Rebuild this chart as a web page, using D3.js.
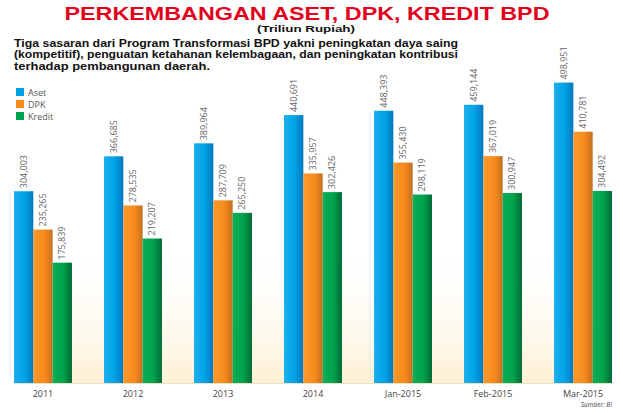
<!DOCTYPE html>
<html>
<head>
<meta charset="utf-8">
<script src="https://cdn.jsdelivr.net/npm/d3@7"></script>
<style>
  body { margin: 0; background: #fff; }
  svg { display: block; }
</style>
</head>
<body>
<div id="chart"></div>
<script>
// data (Triliun Rupiah)
const categories = ["2011", "2012", "2013", "2014", "Jan-2015", "Feb-2015", "Mar-2015"];
const seriesNames = ["Aset", "DPK", "Kredit"];
const aset   = [304003, 366685, 389964, 440691, 448393, 459144, 498951];
const dpk    = [235265, 278535, 287709, 335957, 355430, 367019, 410781];
const kredit = [175839, 219207, 265250, 302426, 298119, 300947, 304492];
const descLines = [
    "Tiga sasaran dari Program Transformasi BPD yakni peningkatan daya saing",
    "(kompetitif), penguatan ketahanan kelembagaan, dan peningkatan kontribusi",
    "terhadap pembangunan daerah."
];
const descWidths = [444, 444, 196];

const data = categories.map((c, i) => ({
    cat: c,
    values: [
        { key: "Aset", v: aset[i] },
        { key: "DPK", v: dpk[i] },
        { key: "Kredit", v: kredit[i] }
    ]
}));

const W = 620, H = 413;
const baseY = 383;

const svg = d3.select("#chart").append("svg")
    .attr("width", W)
    .attr("height", H);

const defs = svg.append("defs");

// gradients for bars (lighter left, darker right edge)
const grads = {
    Aset:   [["0%", "#1cb0ee"], ["55%", "#00a2e6"], ["100%", "#0577bd"]],
    DPK:    [["0%", "#fa9a2a"], ["60%", "#f6891c"], ["100%", "#c46f22"]],
    Kredit: [["0%", "#06ad57"], ["55%", "#00a24e"], ["100%", "#006a35"]]
};
Object.keys(grads).forEach(k => {
    const g = defs.append("linearGradient")
        .attr("id", "g-" + k)
        .attr("x1", "0%").attr("x2", "100%").attr("y1", "0%").attr("y2", "0%");
    grads[k].forEach(s => g.append("stop").attr("offset", s[0]).attr("stop-color", s[1]));
});
const bg = defs.append("linearGradient")
    .attr("id", "bg-cream")
    .attr("x1", "0%").attr("x2", "0%").attr("y1", "0%").attr("y2", "100%");
bg.append("stop").attr("offset", "0%").attr("stop-color", "#fffdf8").attr("stop-opacity", 0);
bg.append("stop").attr("offset", "100%").attr("stop-color", "#fdf0d4");

const color = d3.scaleOrdinal().domain(seriesNames).range(["#00a2e6", "#f6891c", "#00a24e"]);

const x0 = d3.scaleBand()
    .domain(categories)
    .range([14, 612])
    .paddingInner(0.356)
    .paddingOuter(0);

const x1 = d3.scaleBand()
    .domain(seriesNames)
    .range([0, x0.bandwidth()])
    .padding(0);

// the original graphic is not drawn from zero, bars are stretched a bit
const y = d3.scaleLinear()
    .domain([-40000, 500000])
    .range([baseY, 82]);

// cream background behind the bars
svg.append("rect")
    .attr("x", 14)
    .attr("y", 250)
    .attr("width", 598)
    .attr("height", baseY - 250)
    .attr("fill", "url(#bg-cream)");

// title
svg.append("text")
    .attr("x", 307)
    .attr("y", 19.5)
    .attr("text-anchor", "middle")
    .attr("textLength", 485)
    .attr("lengthAdjust", "spacingAndGlyphs")
    .style("font-family", "'Liberation Sans', Arial, sans-serif")
    .style("font-weight", "bold")
    .style("font-size", "17.5px")
    .style("fill", "#e3001b")
    .text("PERKEMBANGAN ASET, DPK, KREDIT BPD");

svg.append("text")
    .attr("x", 306)
    .attr("y", 32)
    .attr("text-anchor", "middle")
    .attr("textLength", 98)
    .attr("lengthAdjust", "spacingAndGlyphs")
    .style("font-family", "'Liberation Sans', Arial, sans-serif")
    .style("font-weight", "bold")
    .style("font-size", "9.5px")
    .style("fill", "#111")
    .text("(Triliun Rupiah)");

// description
svg.append("g").selectAll("text")
    .data(descLines)
    .enter()
    .append("text")
    .attr("x", 14)
    .attr("y", (d, i) => 47 + i * 11.3)
    .attr("textLength", (d, i) => descWidths[i])
    .attr("lengthAdjust", "spacingAndGlyphs")
    .style("font-family", "'Liberation Sans', Arial, sans-serif")
    .style("font-weight", "bold")
    .style("font-size", "10px")
    .style("fill", "#111")
    .text(d => d);

// legend
const legend = svg.append("g").selectAll("g")
    .data(seriesNames)
    .enter()
    .append("g")
    .attr("transform", (d, i) => `translate(16, ${88 + i * 12})`);

legend.append("rect")
    .attr("width", 8)
    .attr("height", 8)
    .attr("fill", d => color(d));

legend.append("text")
    .attr("x", 12)
    .attr("y", 7.5)
    .style("font-family", "'Open Sans', sans-serif")
    .style("font-size", "9px")
    .style("fill", "#555")
    .text(d => d);

// bars
const groups = svg.append("g").selectAll("g")
    .data(data)
    .enter()
    .append("g")
    .attr("transform", d => `translate(${x0(d.cat)},0)`);

groups.selectAll("rect")
    .data(d => d.values)
    .enter()
    .append("rect")
    .attr("x", d => x1(d.key))
    .attr("y", d => y(d.v))
    .attr("width", x1.bandwidth())
    .attr("height", d => baseY - y(d.v))
    .attr("fill", d => `url(#g-${d.key})`);

// value labels, rotated
groups.selectAll(".val")
    .data(d => d.values)
    .enter()
    .append("text")
    .attr("class", "val")
    .attr("transform", d => `translate(${x1(d.key) + x1.bandwidth() / 2},${y(d.v) - 3}) rotate(-90)`)
    .attr("dy", "0.35em")
    .style("font-family", "'Open Sans', sans-serif")
    .style("font-size", "9px")
    .style("fill", "#666")
    .text(d => d3.format(",")(d.v));

// baseline
svg.append("line")
    .attr("x1", 14)
    .attr("x2", 612)
    .attr("y1", baseY + 0.5)
    .attr("y2", baseY + 0.5)
    .attr("stroke", "#e6e2c4")
    .attr("stroke-width", 1);

// category labels
svg.append("g").selectAll("text")
    .data(categories)
    .enter()
    .append("text")
    .attr("x", d => x0(d) + x0.bandwidth() / 2)
    .attr("y", 397)
    .attr("text-anchor", "middle")
    .style("font-family", "'Open Sans', sans-serif")
    .style("font-size", "9px")
    .style("fill", "#444")
    .text(d => d);

svg.append("text")
    .attr("x", 612)
    .attr("y", 407)
    .attr("text-anchor", "end")
    .style("font-family", "'Open Sans', sans-serif")
    .style("font-style", "italic")
    .style("font-size", "6.5px")
    .style("fill", "#444")
    .text("Sumber: BI");
</script>
</body>
</html>
